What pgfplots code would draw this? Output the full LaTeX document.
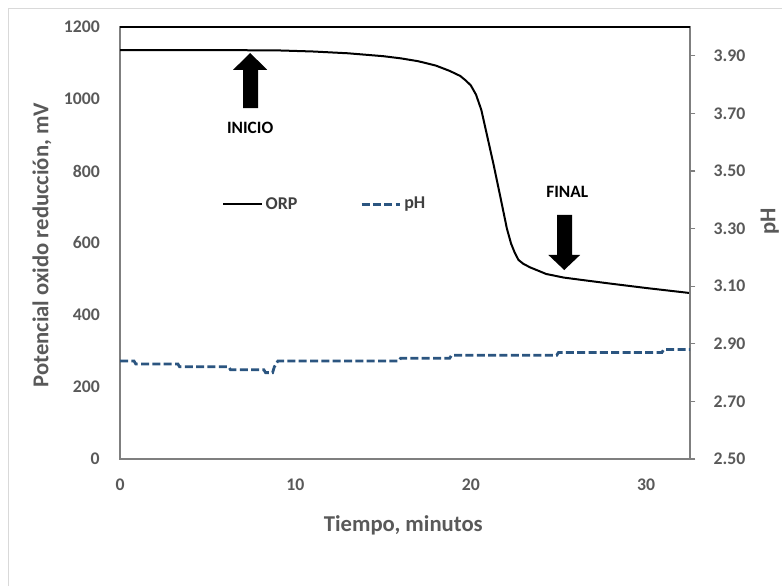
\documentclass[border=0pt]{standalone}
\usepackage{fontspec}
\setmainfont{Carlito}
\usepackage{pgfplots}
\pgfplotsset{compat=1.18}
\definecolor{txtgray}{HTML}{595959}
\definecolor{leggray}{HTML}{404040}
\definecolor{axgray}{HTML}{7F7F7F}
\definecolor{phblue}{HTML}{2B5580}
\definecolor{framegray}{HTML}{D9D9D9}
\begin{document}
\begin{tikzpicture}
\path[use as bounding box] (0pt,0pt) rectangle (586.5pt,-439.5pt);
\draw[framegray, line width=0.75pt] (6pt,-439.5pt) -- (6pt,-6pt) -- (586.5pt,-6pt);

\begin{axis}[
  at={(90pt,-344.25pt)}, anchor=south west,
  scale only axis, width=427.5pt, height=324pt,
  xmin=0, xmax=32.5, ymin=0, ymax=1200,
  xtick={0,10,20,30}, ytick={0,200,400,600,800,1000,1200},
  axis line style={axgray, line width=1.2pt},
  major tick length=0pt,
  /pgf/number format/assume math mode=true,
  /pgf/number format/1000 sep={},
  scaled ticks=false,
  tick label style={font=\bfseries\fontsize{13.3}{15}\selectfont, text=txtgray, inner sep=0pt},
  x tick label style={anchor=center, yshift=-19.5pt},
  y tick label style={anchor=east, xshift=-15pt},
  xlabel={Tiempo, minutos}, ylabel={Potencial oxido reducción, mV},
  every axis x label/.style={at={(axis description cs:0.497,-0.153)}, anchor=center, font=\bfseries\fontsize{17}{20}\selectfont, text=txtgray},
  every axis y label/.style={at={(axis description cs:-0.137,0.495)}, anchor=center, rotate=90, font=\bfseries\fontsize{17}{20}\selectfont, text=txtgray},
]
\addplot[black, line width=1.5pt] coordinates {
(0,1136) (5,1136) (9,1135) (11,1132) (13,1127) (15,1119) (16,1113) (17,1105)
(18,1093) (18.8,1078) (19.4,1064) (19.7,1052) (20.0,1038) (20.3,1012) (20.6,970)
(20.9,905) (21.3,818) (21.7,725) (22.06,640) (22.3,598) (22.5,574) (22.72,553)
(23.0,542) (23.4,532) (24.3,514) (25.3,504) (26.4,497) (28,487) (30,475) (32.5,461)
};
% INICIO arrow
\fill[black] (axis cs:7.02,975) -- (axis cs:7.02,1081) -- (axis cs:6.45,1081) -- (axis cs:7.42,1128)
  -- (axis cs:8.39,1081) -- (axis cs:7.87,1081) -- (axis cs:7.87,975) -- cycle;
\node[font=\bfseries\fontsize{13}{15}\selectfont, text=black] at (axis cs:7.42,919) {INICIO};
% FINAL arrow
\fill[black] (axis cs:24.93,678) -- (axis cs:24.93,567) -- (axis cs:24.42,567) -- (axis cs:25.33,525)
  -- (axis cs:26.24,567) -- (axis cs:25.78,567) -- (axis cs:25.78,678) -- cycle;
\node[font=\bfseries\fontsize{13}{15}\selectfont, text=black] at (axis cs:25.5,742) {FINAL};
\end{axis}

\begin{axis}[
  at={(90pt,-344.25pt)}, anchor=south west,
  scale only axis, width=427.5pt, height=324pt,
  xmin=0, xmax=32.5, ymin=2.5, ymax=4.0,
  axis x line=none, axis y line*=right,
  y axis line style={axgray, line width=1.2pt, -},
  every outer y axis line/.append style={-},
  ytick={2.5,2.7,2.9,3.1,3.3,3.5,3.7,3.9},
  tick style={axgray, line width=0.8pt}, tick align=outside, major tick length=4pt,
  /pgf/number format/assume math mode=true,
  yticklabel style={/pgf/number format/.cd, fixed, fixed zerofill, precision=2, /tikz/.cd,
     font=\bfseries\fontsize{13.3}{15}\selectfont, text=txtgray, inner sep=0pt, anchor=west, xshift=13.5pt},
  ylabel={pH},
  every axis y label/.style={at={(axis description cs:1.14,0.55)}, anchor=center, rotate=90, font=\bfseries\fontsize{17}{20}\selectfont, text=txtgray},
  legend style={at={(axis description cs:0.172,0.59)}, anchor=west, draw=none, fill=none,
     legend columns=2, font=\bfseries\fontsize{13.5}{16}\selectfont, text=leggray,
     /tikz/every even column/.append style={column sep=45pt}},
  legend image code/.code={\draw[#1] (0pt,0pt) -- (29pt,0pt);},
]
\addlegendimage{black, line width=1.5pt}
\addlegendentry{ORP}
\addplot[phblue, line width=2.1pt, dash pattern=on 6pt off 2.5pt] coordinates {
(0,2.84) (0.8,2.84) (0.9,2.83) (3.3,2.83) (3.4,2.82) (6.2,2.82) (6.3,2.81)
(8.2,2.81) (8.3,2.80) (8.7,2.80) (8.8,2.82) (9.0,2.84) (15.9,2.84) (16.0,2.85)
(18.8,2.85) (18.9,2.86) (24.9,2.86) (25.0,2.87) (30.9,2.87) (31.0,2.88) (32.5,2.88)
};
\addlegendentry{pH}
\end{axis}
\draw[black, line width=1.2pt] (90pt,-20.25pt) -- (517.5pt,-20.25pt);
\end{tikzpicture}
\end{document}
